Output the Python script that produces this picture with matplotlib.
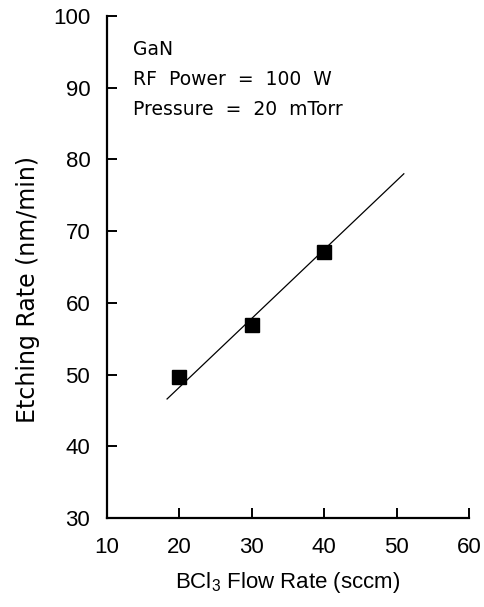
import matplotlib
matplotlib.use("Agg")
import matplotlib.pyplot as plt

# measured data (BCl3 flow vs etching rate)
flow = [20, 30, 40]
rate = [49.7, 56.9, 67.1]

# hand drawn fit line end points
fit_x = [18.3, 51.0]
fit_y = [46.6, 78.0]

x_ticks = [10, 20, 30, 40, 50, 60]
y_ticks = [30, 40, 50, 60, 70, 80, 90, 100]

notes = ["GaN", "RF  Power  =  100  W", "Pressure  =  20  mTorr"]

plt.rcParams['font.family'] = ['Liberation Sans', 'DejaVu Sans']
plt.rcParams['mathtext.fontset'] = 'custom'
plt.rcParams['mathtext.rm'] = 'Liberation Sans'
plt.rcParams['mathtext.it'] = 'Liberation Sans'

fig = plt.figure(figsize=(4.84, 6.07), dpi=100)
ax = fig.add_axes([0.221, 0.1466, 0.748, 0.827])

ax.plot(fit_x, fit_y, color='black', linewidth=0.9)
ax.plot(flow, rate, linestyle='none', marker='s', markersize=10.5, color='black')

ax.set_xlim(10, 60)
ax.set_ylim(30, 100)
ax.set_xticks(x_ticks)
ax.set_yticks(y_ticks)

for s in ['top', 'right']:
    ax.spines[s].set_visible(False)
for s in ['left', 'bottom']:
    ax.spines[s].set_linewidth(1.6)

ax.tick_params(direction='in', length=7, width=1.4, labelsize=16, pad=12, colors='black')
ax.tick_params(axis='x', pad=14)

ax.set_xlabel("BCl$_3$ Flow Rate (sccm)", fontsize=16, labelpad=8)
ax.set_ylabel("Etching Rate (nm/min)", fontsize=17, family='DejaVu Sans', labelpad=12)
ax.yaxis.set_label_coords(-0.185, 0.455)

ys = [0.922, 0.863, 0.803]
for t, y in zip(notes, ys):
    ax.text(0.072, y, t, transform=ax.transAxes, fontsize=13.5, family='DejaVu Sans',
            va='baseline', ha='left')

fig.savefig("out.png", dpi=100)
